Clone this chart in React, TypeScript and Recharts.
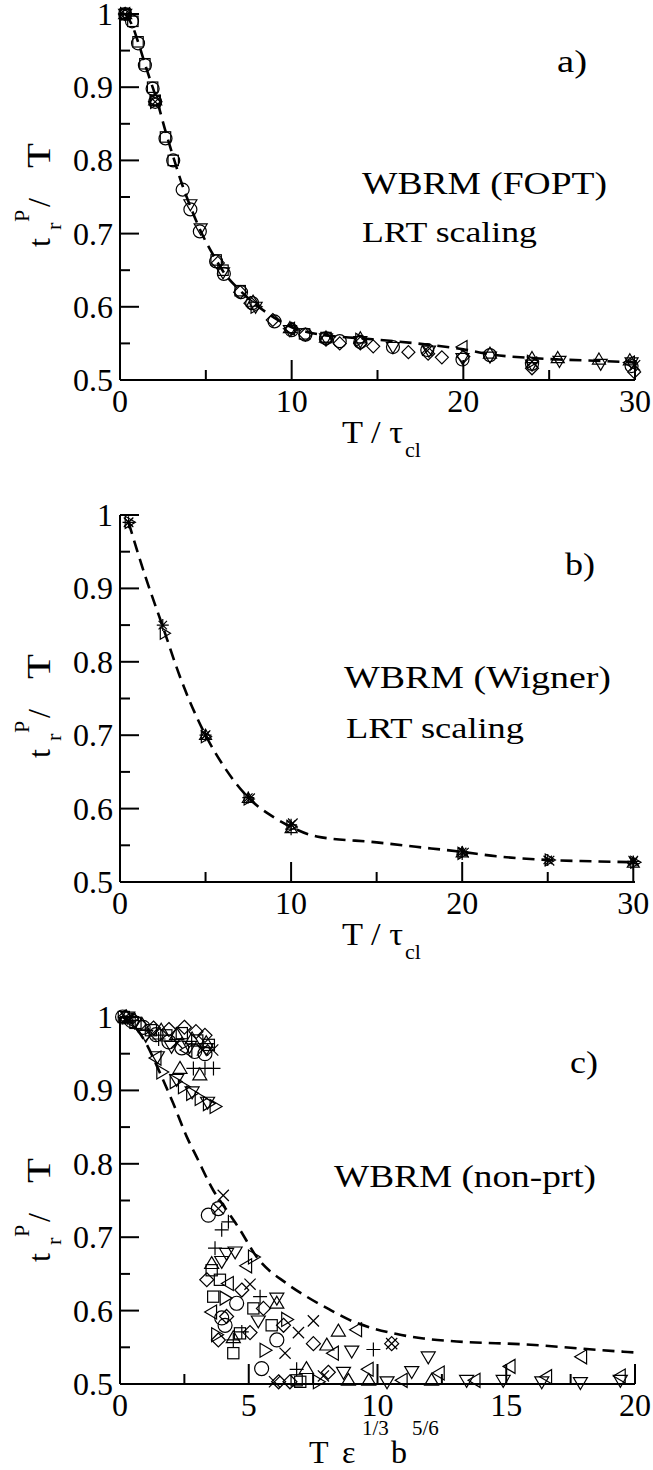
import React from 'react';
import { ComposedChart, Line, Scatter, XAxis, YAxis } from 'recharts';

const SERIF = '"Liberation Serif", "Times New Roman", serif';

type Pt = [number, number];
type Kind = 'circle' | 'square' | 'diamond' | 'up' | 'down' | 'left' | 'right' | 'plus' | 'cross' | 'star';

// shared ticks
const yTicks = [0.5, 0.55, 0.6, 0.65, 0.7, 0.75, 0.8, 0.85, 0.9, 0.95, 1];
const xTicksAB = [0, 5, 10, 15, 20, 25, 30];
const xTicksC = [0, 2.5, 5, 7.5, 10, 12.5, 15, 17.5, 20];

// ---- a) WBRM (FOPT), LRT scaling ----
const curveA: Pt[] = [
  [0.3, 1.0], [0.7, 0.985], [1.05, 0.962], [1.45, 0.932], [1.9, 0.9], [2.1, 0.886], [2.65, 0.84],
  [3.1, 0.805], [3.65, 0.765], [4.1, 0.737], [4.65, 0.706], [5.6, 0.664], [6.05, 0.647], [7.05, 0.621],
  [7.8, 0.605], [9, 0.585], [10, 0.572], [11, 0.565], [12, 0.561], [14, 0.557], [16, 0.553],
  [18, 0.548], [20, 0.542], [21.6, 0.535], [24, 0.53], [25.6, 0.528], [28, 0.526], [30, 0.524],
];
const aCircle: Pt[] = [
  [0.3, 1.0], [0.7, 0.99], [1.05, 0.96], [1.45, 0.93], [1.9, 0.898], [2.05, 0.88], [2.65, 0.83],
  [3.1, 0.8], [3.65, 0.76], [4.1, 0.733], [4.65, 0.703], [5.6, 0.662], [6.05, 0.645], [7.05, 0.62],
  [7.7, 0.605], [9.0, 0.58], [10.0, 0.568], [10.8, 0.562], [12.0, 0.557], [12.8, 0.553], [14.0, 0.552],
  [15.9, 0.545], [17.9, 0.541], [19.95, 0.528], [21.55, 0.534], [24.0, 0.522], [29.8, 0.519],
];
const aSquare: Pt[] = [
  [0.3, 1.0], [0.75, 0.99], [1.05, 0.962], [1.45, 0.932], [1.9, 0.9], [2.05, 0.882], [2.65, 0.832],
  [3.1, 0.8], [5.6, 0.664], [6.0, 0.65], [7.0, 0.622], [10.75, 0.563], [12.0, 0.558],
];
const aDiamond: Pt[] = [
  [5.7, 0.66], [7.0, 0.62], [7.6, 0.605], [8.9, 0.582], [10.0, 0.57], [10.8, 0.562], [12.0, 0.555],
  [12.8, 0.55], [14.0, 0.55], [14.75, 0.546], [16.8, 0.538], [17.95, 0.536], [18.75, 0.531],
  [20.0, 0.532], [24.0, 0.516], [29.95, 0.511],
];
const aDown: Pt[] = [
  [0.3, 1.0], [4.1, 0.74], [4.7, 0.707], [6.0, 0.647], [7.9, 0.6], [9.9, 0.568], [12.0, 0.557],
  [14.0, 0.553], [15.9, 0.545], [18.0, 0.54], [19.95, 0.53], [21.55, 0.532], [24.0, 0.521],
  [25.6, 0.526], [28.0, 0.522], [29.8, 0.524],
];
const aUp: Pt[] = [
  [0.3, 1.0], [2.05, 0.882], [7.75, 0.607], [9.9, 0.571], [12.0, 0.558], [14.0, 0.557], [21.55, 0.536],
  [24.0, 0.53], [25.5, 0.53], [27.9, 0.528], [29.7, 0.527],
];
const aLeft: Pt[] = [[0.3, 1.0], [2.05, 0.88], [9.9, 0.57], [19.95, 0.545], [29.7, 0.524]];
const aRight: Pt[] = [[0.3, 1.0], [2.05, 0.88], [7.9, 0.6], [14.0, 0.555], [24, 0.525]];
const aCross: Pt[] = [[0.3, 1.0], [2.05, 0.88], [17.9, 0.54], [24, 0.525], [30, 0.52]];

// ---- b) WBRM (Wigner), LRT scaling ----
const curveB: Pt[] = [
  [0.5, 0.99], [1.5, 0.915], [2.5, 0.848], [3.5, 0.78], [5, 0.7], [6, 0.66], [7.5, 0.615], [9, 0.588],
  [10, 0.575], [11.5, 0.562], [15, 0.554], [17.3, 0.548], [20, 0.541], [22, 0.535], [25, 0.53],
  [28, 0.528], [30, 0.527],
];
const bStar: Pt[] = [[0.5, 0.99], [2.5, 0.85], [5, 0.7], [7.5, 0.615], [10, 0.578], [20, 0.541], [25, 0.53], [30, 0.528]];
const bRight: Pt[] = [[0.55, 0.99], [2.6, 0.839], [5, 0.698], [7.5, 0.613], [10, 0.576], [20, 0.539], [25.1, 0.53], [30.1, 0.527]];
const bCross: Pt[] = [[0.5, 0.99], [5, 0.7], [7.6, 0.614], [10.1, 0.58], [20.1, 0.54], [25.1, 0.529], [30, 0.529]];
const bUp: Pt[] = [[5, 0.7], [7.5, 0.614], [10, 0.573], [20, 0.54], [30, 0.526]];
const bPlus: Pt[] = [[10, 0.572], [20, 0.538], [30, 0.525]];

// ---- c) WBRM (non-prt) ----
const curveC: Pt[] = [
  [0.1, 1.0], [0.5, 0.99], [1.0, 0.965], [1.5, 0.928], [2.07, 0.882], [2.59, 0.837], [2.98, 0.809],
  [3.62, 0.764], [4.14, 0.737], [4.66, 0.71], [5.31, 0.673], [6.47, 0.637], [7.25, 0.619],
  [8.16, 0.601], [8.93, 0.587], [9.71, 0.577], [10.75, 0.568], [11.79, 0.562], [13.08, 0.558],
  [15.67, 0.554], [19.55, 0.544], [20, 0.543],
];
const cCircle: Pt[] = [
  [0.1, 1.0], [0.45, 0.995], [0.9, 0.986], [1.4, 0.976], [1.9, 0.966], [2.4, 0.958], [2.9, 0.953],
  [3.3, 0.95], [3.43, 0.73], [3.82, 0.739], [4.53, 0.61], [4.08, 0.58], [3.95, 0.59], [6.09, 0.56], [5.5, 0.521],
];
const cSquare: Pt[] = [
  [0.15, 1.0], [0.6, 0.992], [1.2, 0.982], [1.8, 0.975], [2.4, 0.978], [3.0, 0.968], [3.45, 0.962],
  [3.88, 0.642], [3.56, 0.655], [3.62, 0.619], [5.18, 0.603], [5.89, 0.58], [4.66, 0.569], [4.4, 0.542],
  [6.86, 0.505], [7.0, 0.503],
];
const cDiamond: Pt[] = [
  [0.2, 1.0], [0.75, 0.99], [1.3, 0.985], [1.9, 0.983], [2.5, 0.986], [2.95, 0.98], [3.3, 0.975],
  [3.37, 0.642], [4.73, 0.628], [5.57, 0.603], [4.14, 0.592], [6.35, 0.58], [3.82, 0.56], [5.05, 0.57],
  [7.51, 0.555], [8.09, 0.516], [10.55, 0.555], [6.16, 0.503], [6.6, 0.503],
];
const cUp: Pt[] = [
  [0.25, 1.0], [0.85, 0.99], [1.6, 0.982], [2.2, 0.976], [2.8, 0.97], [3.35, 0.965], [2.33, 0.93],
  [3.1, 0.921], [3.56, 0.664], [6.09, 0.61], [4.4, 0.563], [8.48, 0.572], [8.03, 0.553], [7.24, 0.521],
  [8.87, 0.505], [9.66, 0.505], [12.1, 0.505],
];
const cDown: Pt[] = [
  [0.3, 1.0], [1.0, 0.975], [1.45, 0.946], [2.0, 0.96], [2.7, 0.96], [3.35, 0.957], [2.2, 0.915],
  [2.8, 0.898], [3.4, 0.884], [4.14, 0.678], [4.47, 0.68], [3.95, 0.667], [6.09, 0.617], [5.37, 0.586],
  [9.0, 0.545], [8.68, 0.516], [11.97, 0.537], [11.33, 0.517], [10.37, 0.503], [13.46, 0.505],
  [14.88, 0.505], [16.38, 0.503], [17.88, 0.502], [19.43, 0.505],
];
const cLeft: Pt[] = [
  [0.4, 0.995], [1.4, 0.944], [2.6, 0.955], [4.92, 0.661], [4.21, 0.637], [3.56, 0.598], [9.19, 0.574],
  [8.29, 0.542], [9.64, 0.52], [10.96, 0.505], [12.4, 0.515], [13.79, 0.505], [15.15, 0.524],
  [16.57, 0.51], [17.93, 0.537], [19.43, 0.511],
];
const cRight: Pt[] = [
  [1.62, 0.925], [2.14, 0.912], [2.46, 0.905], [2.78, 0.896], [3.11, 0.889], [3.43, 0.882], [3.69, 0.878],
  [5.18, 0.673], [4.08, 0.617], [6.47, 0.588], [3.75, 0.567], [5.63, 0.546], [7.7, 0.503],
];
const cPlus: Pt[] = [
  [0.5, 0.995], [1.5, 0.97], [2.85, 0.93], [3.3, 0.93], [3.63, 0.93], [4.21, 0.721], [3.95, 0.71],
  [3.69, 0.685], [5.44, 0.619], [4.73, 0.571], [9.84, 0.547], [6.86, 0.52], [4.4, 0.56],
];
const cCross: Pt[] = [
  [0.3, 0.998], [1.2, 0.975], [2.2, 0.965], [3.2, 0.955], [3.6, 0.955], [4.01, 0.757], [3.82, 0.739],
  [5.05, 0.636], [7.51, 0.586], [6.93, 0.57], [6.41, 0.542], [10.55, 0.555], [7.9, 0.511], [6.0, 0.503],
];

const toRows = (pts: Pt[]) => pts.map(([x, y]) => ({ x, y }));
const isMajor = (v: number, step: number) => Math.abs(v / step - Math.round(v / step)) < 1e-6;

const xTick = (step: number, side: 'bottom' | 'top') => (props: any) => {
  const { x, y, payload } = props;
  const v = payload.value;
  const major = isMajor(v, step);
  const dir = side === 'bottom' ? -1 : 1;
  return (
    <g>
      <line x1={x} x2={x} y1={y} y2={y + dir * (major ? 20 : 10)} stroke="#000" strokeWidth={2} />
      {side === 'bottom' && major && (
        <text x={x} y={y + 32} textAnchor="middle" fontSize={32} fontFamily={SERIF} fill="#000">{v}</text>
      )}
    </g>
  );
};

const yTick = (side: 'left' | 'right') => (props: any) => {
  const { x, y, payload } = props;
  const v = payload.value;
  const major = isMajor(v, 0.1);
  const dir = side === 'left' ? 1 : -1;
  return (
    <g>
      <line x1={x} x2={x + dir * (major ? 19 : 10)} y1={y} y2={y} stroke="#000" strokeWidth={2} />
      {side === 'left' && major && (
        <text x={x - 7} y={y + 11} textAnchor="end" fontSize={32} fontFamily={SERIF} fill="#000">
          {v === 1 ? '1' : v.toFixed(1)}
        </text>
      )}
    </g>
  );
};

const marker = (kind: Kind, r: number) => (props: any) => {
  const { cx, cy } = props;
  if (typeof cx !== 'number' || typeof cy !== 'number') return <g />;
  const s = { fill: 'none', stroke: '#000', strokeWidth: 1.2 };
  const poly = (p: number[][]) => <polygon points={p.map((q) => q.join(',')).join(' ')} {...s} />;
  const h = r * 0.8;
  const k = r * 0.7;
  switch (kind) {
    case 'circle':
      return <circle cx={cx} cy={cy} r={r} {...s} />;
    case 'square':
      return <rect x={cx - h} y={cy - h} width={2 * h} height={2 * h} {...s} />;
    case 'diamond':
      return poly([[cx, cy - r], [cx + r, cy], [cx, cy + r], [cx - r, cy]]);
    case 'up':
      return poly([[cx, cy - r], [cx + r, cy + k], [cx - r, cy + k]]);
    case 'down':
      return poly([[cx, cy + r], [cx + r, cy - k], [cx - r, cy - k]]);
    case 'left':
      return poly([[cx - r, cy], [cx + k, cy - r], [cx + k, cy + r]]);
    case 'right':
      return poly([[cx + r, cy], [cx - k, cy - r], [cx - k, cy + r]]);
    case 'plus':
      return <path d={`M${cx - r},${cy}H${cx + r}M${cx},${cy - r}V${cy + r}`} {...s} />;
    case 'cross':
      return <path d={`M${cx - h},${cy - h}L${cx + h},${cy + h}M${cx - h},${cy + h}L${cx + h},${cy - h}`} {...s} />;
    default:
      return (
        <path
          d={`M${cx - r},${cy}H${cx + r}M${cx},${cy - r}V${cy + r}M${cx - k},${cy - k}L${cx + k},${cy + k}M${cx - k},${cy + k}L${cx + k},${cy - k}`}
          {...s}
        />
      );
  }
};

type Series = { pts: Pt[]; kind: Kind };

interface PanelProps {
  plotTop: number;
  plotBottom: number;
  xMax: number;
  xTicks: number[];
  xStep: number;
  curve: Pt[];
  series: Series[];
  r: number;
}

const axisLine = { stroke: '#000', strokeWidth: 2 };
const PAD_TOP = 40;
const PAD_BOTTOM = 60;

const Panel: React.FC<PanelProps> = ({ plotTop, plotBottom, xMax, xTicks, xStep, curve, series, r }) => {
  const top = plotTop - PAD_TOP;
  const height = plotBottom - plotTop + PAD_TOP + PAD_BOTTOM;
  return (
    <div style={{ position: 'absolute', left: 0, top }}>
      <ComposedChart width={653} height={height} margin={{ top: PAD_TOP, right: 18, bottom: 0, left: 0 }}>
        <XAxis xAxisId="b" dataKey="x" type="number" domain={[0, xMax]} ticks={xTicks} interval={0}
          tick={xTick(xStep, 'bottom')} tickLine={false} tickSize={0} tickMargin={0} height={PAD_BOTTOM} axisLine={axisLine} />
        <XAxis xAxisId="t" orientation="top" type="number" domain={[0, xMax]} ticks={xTicks} interval={0}
          tick={xTick(xStep, 'top')} tickLine={false} tickSize={0} tickMargin={0} height={0} axisLine={axisLine} />
        <YAxis yAxisId="l" dataKey="y" type="number" domain={[0.5, 1]} ticks={yTicks} interval={0}
          tick={yTick('left')} tickLine={false} tickSize={0} tickMargin={0} width={120} axisLine={axisLine} />
        <YAxis yAxisId="r" orientation="right" type="number" domain={[0.5, 1]} ticks={yTicks} interval={0}
          tick={yTick('right')} tickLine={false} tickSize={0} tickMargin={0} width={0} axisLine={axisLine} />
        {series.map((s, i) => (
          <Scatter key={i} xAxisId="b" yAxisId="l" data={toRows(s.pts)} shape={marker(s.kind, r)}
            isAnimationActive={false} />
        ))}
        <Line xAxisId="b" yAxisId="l" data={toRows(curve)} dataKey="y" type="monotone" stroke="#000"
          strokeWidth={2.6} strokeDasharray="12 7" dot={false} activeDot={false} isAnimationActive={false} />
      </ComposedChart>
    </div>
  );
};

const YTitle: React.FC<{ bottom: number }> = ({ bottom }) => (
  <g fontFamily={SERIF} fill="#000">
    <text x={50} y={bottom} fontSize={32} transform={`rotate(-90 50 ${bottom})`}>t</text>
    <text x={61} y={bottom - 17} fontSize={22} transform={`rotate(-90 61 ${bottom - 17})`}>r</text>
    <text x={29} y={bottom - 25} fontSize={22} transform={`rotate(-90 29 ${bottom - 25})`}>P</text>
    <text x={50} y={bottom - 40} fontSize={32} transform={`rotate(-90 50 ${bottom - 40})`}>/</text>
    <text x={50} y={bottom - 79} fontSize={33} textLength={25} lengthAdjust="spacingAndGlyphs"
      transform={`rotate(-90 50 ${bottom - 79})`}>T</text>
  </g>
);

const TauTitle: React.FC<{ base: number }> = ({ base }) => (
  <g fontFamily={SERIF} fill="#000">
    <text x={342} y={base} fontSize={32} textLength={61} lengthAdjust="spacingAndGlyphs">T / τ</text>
    <text x={405} y={base + 14} fontSize={22}>cl</text>
  </g>
);

const App: React.FC = () => (
  <div style={{ position: 'absolute', left: 0, top: 0, width: 653, height: 1470, overflow: 'hidden', background: '#fff' }}>
    <Panel plotTop={14} plotBottom={380} xMax={30} xTicks={xTicksAB} xStep={10} curve={curveA} r={6.5}
      series={[
        { pts: aCircle, kind: 'circle' }, { pts: aSquare, kind: 'square' }, { pts: aDiamond, kind: 'diamond' },
        { pts: aDown, kind: 'down' }, { pts: aUp, kind: 'up' }, { pts: aLeft, kind: 'left' },
        { pts: aRight, kind: 'right' }, { pts: aCross, kind: 'cross' },
      ]} />
    <Panel plotTop={515} plotBottom={882} xMax={30} xTicks={xTicksAB} xStep={10} curve={curveB} r={6}
      series={[
        { pts: bStar, kind: 'star' }, { pts: bRight, kind: 'right' }, { pts: bCross, kind: 'cross' },
        { pts: bUp, kind: 'up' }, { pts: bPlus, kind: 'plus' },
      ]} />
    <Panel plotTop={1017} plotBottom={1384} xMax={20} xTicks={xTicksC} xStep={5} curve={curveC} r={7}
      series={[
        { pts: cCircle, kind: 'circle' }, { pts: cSquare, kind: 'square' }, { pts: cDiamond, kind: 'diamond' },
        { pts: cUp, kind: 'up' }, { pts: cDown, kind: 'down' }, { pts: cLeft, kind: 'left' },
        { pts: cRight, kind: 'right' }, { pts: cPlus, kind: 'plus' }, { pts: cCross, kind: 'cross' },
      ]} />
    <svg width={653} height={1470} style={{ position: 'absolute', left: 0, top: 0, pointerEvents: 'none' }}>
      <g fontFamily={SERIF} fill="#000">
        <text x={557} y={72} fontSize={32} textLength={30} lengthAdjust="spacingAndGlyphs">a)</text>
        <text x={362} y={194} fontSize={31} textLength={245} lengthAdjust="spacingAndGlyphs">WBRM (FOPT)</text>
        <text x={362} y={242} fontSize={30} textLength={175} lengthAdjust="spacingAndGlyphs">LRT scaling</text>
        <text x={565} y={575} fontSize={32} textLength={30} lengthAdjust="spacingAndGlyphs">b)</text>
        <text x={344} y={688} fontSize={31} textLength={267} lengthAdjust="spacingAndGlyphs">WBRM (Wigner)</text>
        <text x={346} y={738} fontSize={30} textLength={178} lengthAdjust="spacingAndGlyphs">LRT scaling</text>
        <text x={570} y={1073} fontSize={32} textLength={28} lengthAdjust="spacingAndGlyphs">c)</text>
        <text x={334} y={1187} fontSize={31} textLength={262} lengthAdjust="spacingAndGlyphs">WBRM (non-prt)</text>
        <text x={309} y={1463} fontSize={32}>T</text>
        <text x={342} y={1463} fontSize={32}>ε</text>
        <text x={362} y={1435} fontSize={21}>1/3</text>
        <text x={391} y={1463} fontSize={32}>b</text>
        <text x={412} y={1435} fontSize={21}>5/6</text>
      </g>
      <YTitle bottom={247} />
      <YTitle bottom={758} />
      <YTitle bottom={1262} />
      <TauTitle base={443} />
      <TauTitle base={945} />
    </svg>
  </div>
);

export default App;
